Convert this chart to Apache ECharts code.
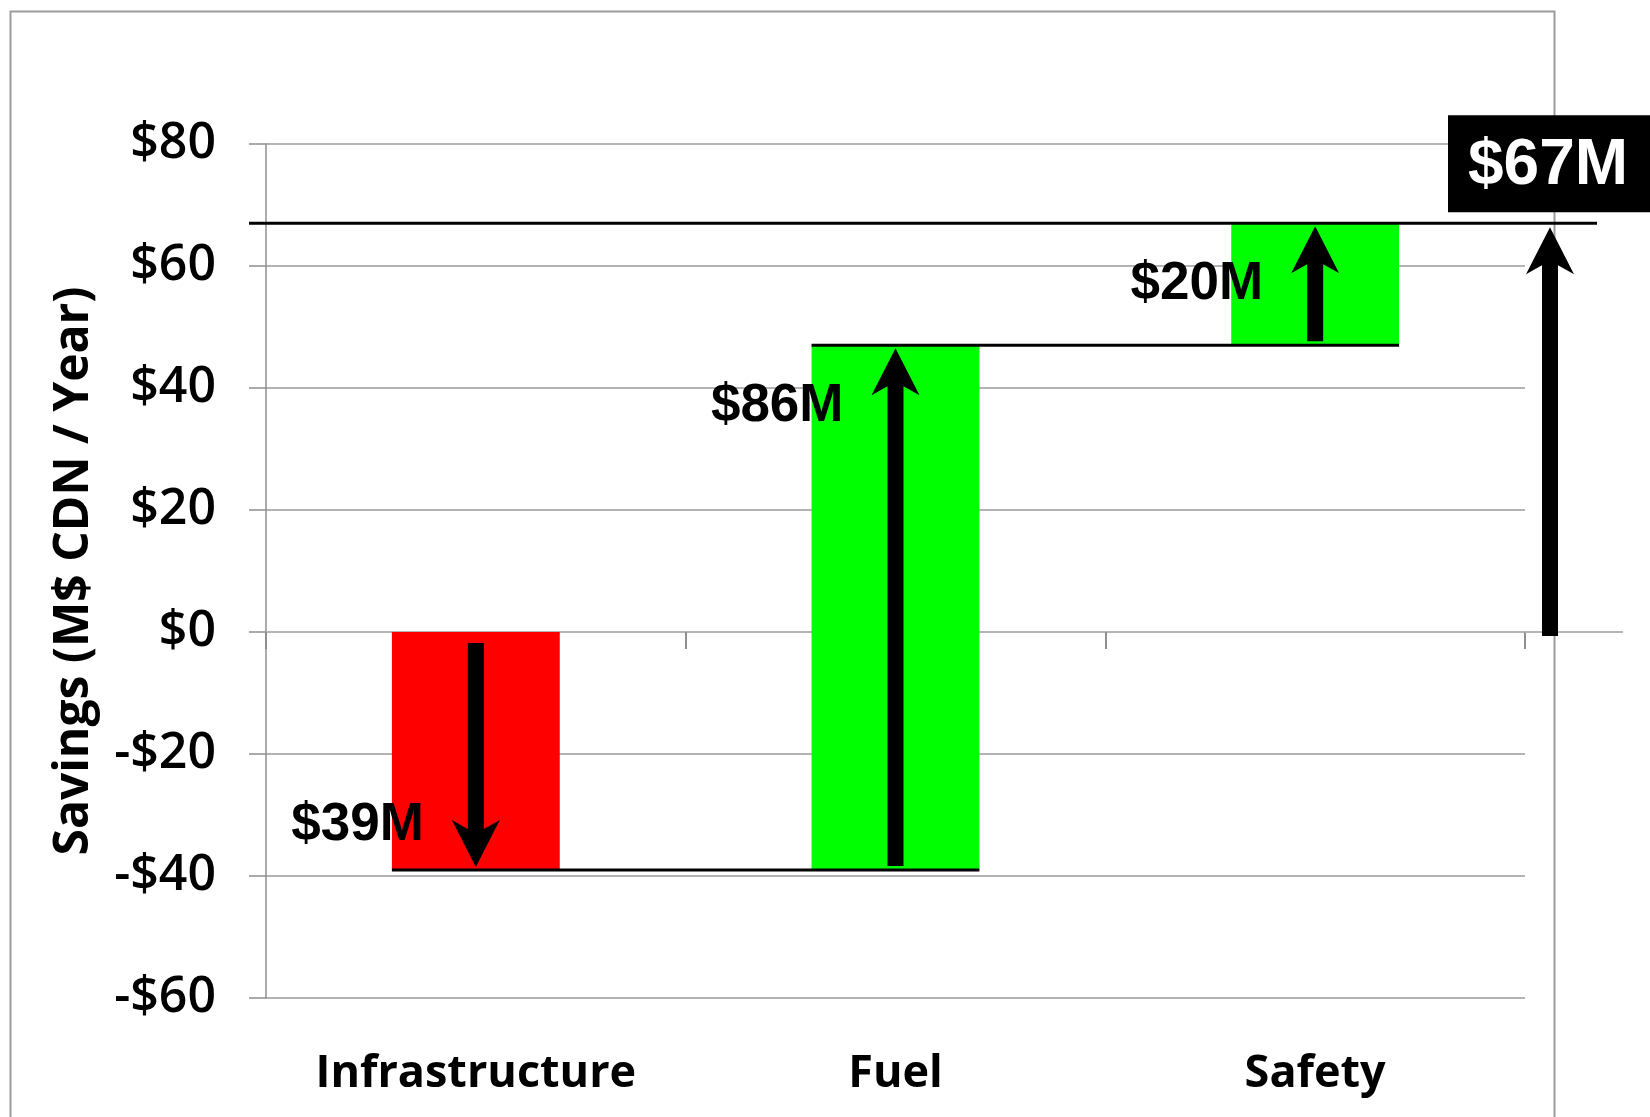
<!DOCTYPE html>
<html>
<head>
<meta charset="utf-8">
<script src="https://cdn.jsdelivr.net/npm/echarts@6/dist/echarts.min.js"></script>
<style>
  html, body { margin: 0; padding: 0; background: #fff; }
  #chart { width: 1650px; height: 1117px; }
</style>
</head>
<body>
<div id="chart"></div>
<script>
// Savings waterfall: each step moves the running total, last arrow shows the net result
const categories = ['Infrastructure', 'Fuel', 'Safety'];
const changes = [-39, 86, 20];
const barColors = ['#ff0000', '#00ff00', '#00ff00'];
const yTickValues = [-60, -40, -20, 0, 20, 40, 60, 80];
const yTickLabels = ['-$60', '-$40', '-$20', '$0', '$20', '$40', '$60', '$80'];
const yAxisTitle = 'Savings (M$ CDN / Year)';

// running levels before / after each step
const levels = [0];
changes.forEach((c, i) => levels.push(levels[i] + c));
const total = levels[levels.length - 1];
const steps = categories.map((c, i) => [i, levels[i], levels[i + 1], changes[i]]);

const money = v => '$' + Math.abs(v) + 'M';
const tickLabel = v => {
  const k = yTickValues.indexOf(v);
  return k >= 0 ? yTickLabels[k] : '';
};

const GRAY_AXIS = '#8f8f8f';
const GRAY_GRID = '#b4b4b4';
const LABEL_FONT = '"Open Sans", "Noto Sans", sans-serif';
const VALUE_FONT = '"Liberation Sans", Arial, sans-serif';

// block arrow polygon from tail pixel y0 to tip pixel y1
function arrowPoints(x, y0, y1) {
  const d = y1 < y0 ? -1 : 1;
  const head = 47, hw = 24, sw = 8, notch = 9;
  const barbY = y1 - d * head;
  const neckY = y1 - d * (head - notch);
  return [[x, y1], [x + hw, barbY], [x + sw, neckY], [x + sw, y0],
          [x - sw, y0], [x - sw, neckY], [x - hw, barbY]];
}

function renderBar(params, api) {
  const i = api.value(0);
  const a = api.coord([i, api.value(1)]);
  const b = api.coord([i, api.value(2)]);
  const w = api.size([1, 0])[0] * 0.4;
  return {
    type: 'rect',
    shape: { x: a[0] - w / 2, y: Math.min(a[1], b[1]), width: w, height: Math.abs(b[1] - a[1]) },
    style: { fill: barColors[i] }
  };
}

// connector from this bar's left edge to the next bar's right edge at the level reached
function renderConnector(params, api) {
  const i = api.value(0);
  if (i >= categories.length - 1) return null;
  const band = api.size([1, 0])[0];
  const w = band * 0.4;
  const p = api.coord([i, api.value(2)]);
  const q = api.coord([i + 1, api.value(2)]);
  return {
    type: 'line',
    shape: { x1: p[0] - w / 2, y1: p[1], x2: q[0] + w / 2, y2: q[1] },
    style: { stroke: '#000', lineWidth: 3 }
  };
}

function renderArrow(params, api) {
  const i = api.value(0);
  const from = api.coord([i, api.value(1)]);
  const to = api.coord([i, api.value(2)]);
  const d = to[1] < from[1] ? -1 : 1;
  const tailGap = api.value(1) === 0 ? 11 : 4;
  const y0 = from[1] + d * tailGap;
  const y1 = to[1] - d * 3;
  const x = from[0];
  return {
    type: 'group',
    children: [
      { type: 'polygon', shape: { points: arrowPoints(x, y0, y1) }, style: { fill: '#000' } },
      {
        type: 'text',
        style: {
          text: money(api.value(3)),
          x: x - 52, y: y1 - d * 50 + 8,
          align: 'right', verticalAlign: 'middle',
          font: 'bold 53px ' + VALUE_FONT, fill: '#000'
        }
      }
    ]
  };
}

// net result: line at the final level, zero line extension, arrow and boxed value
function renderTotal(params, api) {
  const cs = params.coordSys;
  const right = cs.x + cs.width;
  const yT = api.coord([0, api.value(0)])[1];
  const y0 = api.coord([0, 0])[1];
  const x = right + 25;
  return {
    type: 'group',
    children: [
      { type: 'line', shape: { x1: right, y1: y0, x2: right + 98, y2: y0 },
        style: { stroke: GRAY_GRID, lineWidth: 2 } },
      { type: 'line', shape: { x1: cs.x - 17, y1: yT, x2: right + 72, y2: yT },
        style: { stroke: '#000', lineWidth: 3 } },
      { type: 'polygon', shape: { points: arrowPoints(x, y0 + 4, yT + 4) }, style: { fill: '#000' } },
      { type: 'rect', shape: { x: x - 102, y: yT - 108, width: 215, height: 97 }, style: { fill: '#000' } },
      {
        type: 'text',
        style: {
          text: money(api.value(0)),
          x: x - 2, y: yT - 57,
          align: 'center', verticalAlign: 'middle',
          font: 'bold 64px ' + VALUE_FONT, fill: '#fff'
        }
      }
    ]
  };
}

const chart = echarts.init(document.getElementById('chart'), null, { renderer: 'canvas' });

chart.setOption({
  backgroundColor: '#ffffff',
  animation: false,
  graphic: [{
    type: 'rect', left: 8, top: 9, z: -10,
    shape: { width: 1544, height: 1140 },
    style: { fill: 'none', stroke: '#9c9c9c', lineWidth: 2 }
  }],
  grid: { left: 266, right: 125, top: 144, bottom: 119, containLabel: false },
  xAxis: [
    {
      type: 'category', data: categories, position: 'bottom',
      axisLine: { show: false, onZero: false },
      axisTick: { show: false },
      splitLine: { show: false },
      axisLabel: {
        margin: 54, color: '#000',
        fontFamily: LABEL_FONT, fontWeight: 'bold', fontSize: 45
      }
    },
    {
      type: 'category', data: categories, position: 'bottom',
      axisLine: { show: true, onZero: true, lineStyle: { color: GRAY_GRID, width: 2 } },
      axisTick: { show: true, length: 17, lineStyle: { color: GRAY_AXIS, width: 2 } },
      axisLabel: { show: false },
      splitLine: { show: false }
    }
  ],
  yAxis: {
    type: 'value', min: -60, max: 80, interval: 20,
    name: yAxisTitle, nameLocation: 'middle', nameGap: 168,
    nameTextStyle: { fontFamily: LABEL_FONT, fontWeight: 'bold', fontSize: 48, color: '#000' },
    axisLine: { show: true, lineStyle: { color: GRAY_AXIS, width: 1.5 } },
    axisTick: { show: true, length: 17, lineStyle: { color: GRAY_AXIS, width: 1.5 } },
    splitLine: { show: true, lineStyle: { color: GRAY_GRID, width: 2 } },
    axisLabel: {
      margin: 50, color: '#000',
      fontFamily: LABEL_FONT, fontWeight: 600, fontSize: 50,
      formatter: tickLabel
    }
  },
  series: [
    { type: 'custom', name: 'steps', data: steps, renderItem: renderBar, z: 2, clip: false },
    { type: 'custom', name: 'connectors', data: steps, renderItem: renderConnector, z: 3, clip: false },
    { type: 'custom', name: 'arrows', data: steps, renderItem: renderArrow, z: 4, clip: false },
    { type: 'custom', name: 'total', data: [[total]], renderItem: renderTotal, z: 5, clip: false }
  ]
});
</script>
</body>
</html>
